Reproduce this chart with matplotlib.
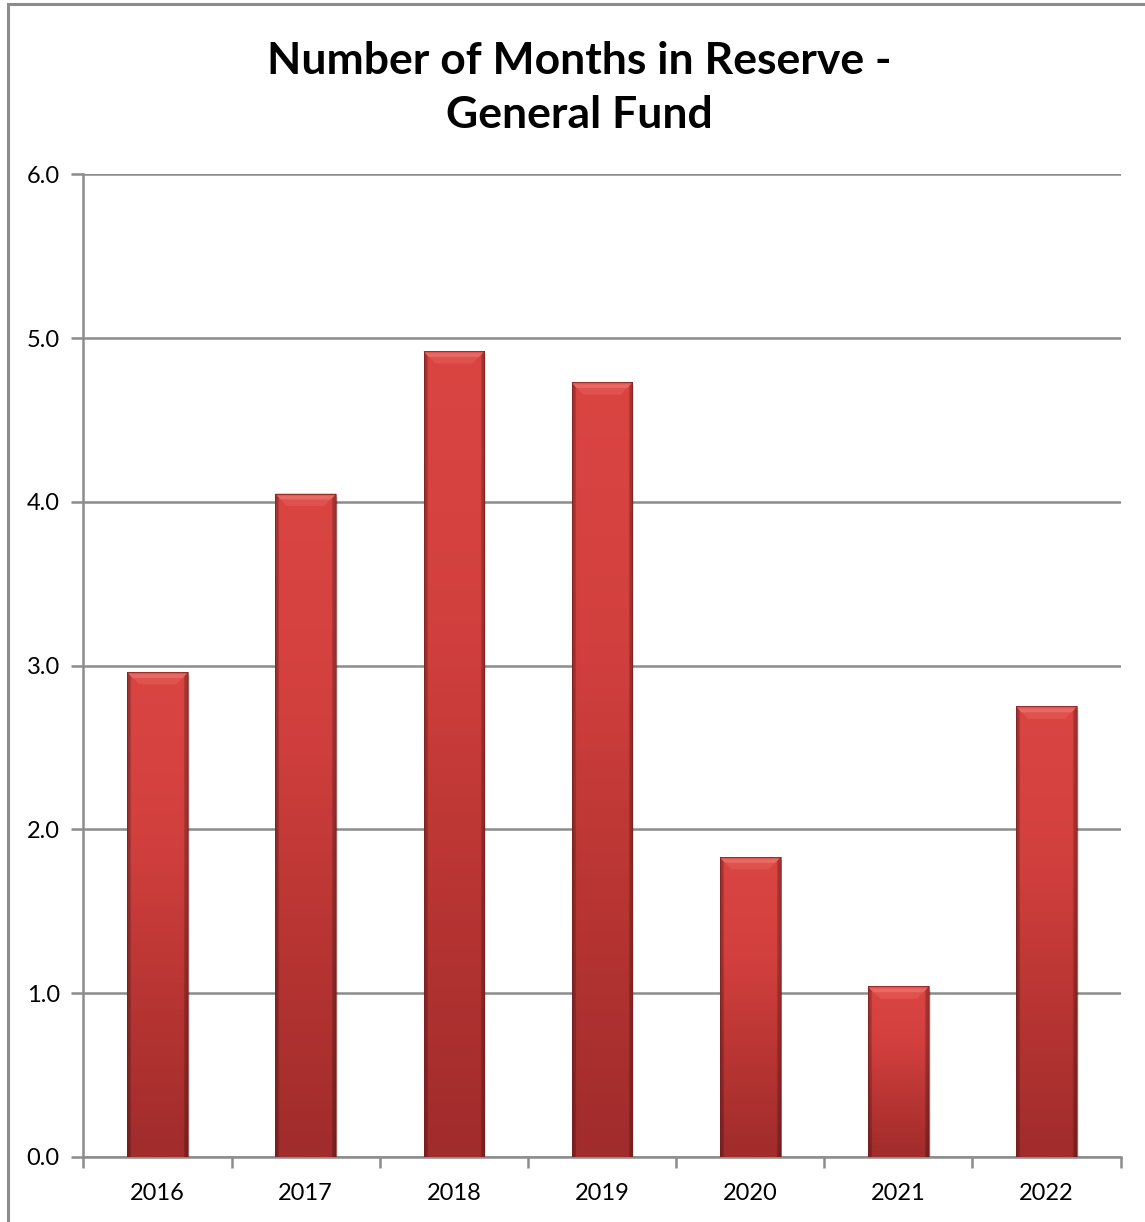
import numpy as np
import matplotlib
matplotlib.use("Agg")
import matplotlib.pyplot as plt
from matplotlib.patches import Rectangle, Polygon
from matplotlib.colors import LinearSegmentedColormap

years = ["2016", "2017", "2018", "2019", "2020", "2021", "2022"]
months_in_reserve = [2.96, 4.05, 4.92, 4.73, 1.83, 1.04, 2.75]
y_ticks = [0.0, 1.0, 2.0, 3.0, 4.0, 5.0, 6.0]
title = "Number of Months in Reserve -\nGeneral Fund"

plt.rcParams["font.family"] = ["Lato", "DejaVu Sans"]

fig = plt.figure(figsize=(11.45, 12.22), dpi=100)
ax = fig.add_axes([0.0729, 0.0534, 0.9058, 0.8039])

grid_color = "#8c8c8c"
x = np.arange(len(years))
bar_w = 0.41

bars = ax.bar(x, months_in_reserve, width=bar_w, color="#c83a38", zorder=3,
              edgecolor="none")

# vertical body gradient: lighter red at the top, deep red at the bottom
body_cmap = LinearSegmentedColormap.from_list(
    "body", ["#a02c2b", "#b83533", "#d2403e", "#da4542"])
edge_cmap = LinearSegmentedColormap.from_list(
    "edge", [(0, 0, 0, 0.30), (0, 0, 0, 0.0), (0, 0, 0, 0.0), (0, 0, 0, 0.30)])

for rect, v in zip(bars, months_in_reserve):
    x0 = rect.get_x()
    w = rect.get_width()
    # soft drop shadow
    ax.add_patch(Rectangle((x0 + 0.012, -0.02), w, v, facecolor="#000000",
                           alpha=0.10, zorder=2, edgecolor="none"))
    grad = np.linspace(0, 1, 256).reshape(-1, 1)
    im = ax.imshow(grad, cmap=body_cmap, origin="lower", aspect="auto",
                   extent=(x0, x0 + w, 0, v), zorder=3.1)
    im.set_clip_path(rect)
    hgrad = np.concatenate([np.linspace(0, 0.12, 16), np.full(224, 0.5),
                            np.linspace(0.88, 1, 16)]).reshape(1, -1)
    im2 = ax.imshow(hgrad, cmap=edge_cmap, origin="lower", aspect="auto",
                    extent=(x0, x0 + w, 0, v), zorder=3.2, vmin=0, vmax=1)
    im2.set_clip_path(rect)
    # bevelled top edge
    bh = 0.075
    bw = 0.08
    ax.add_patch(Polygon([(x0, v), (x0 + w, v), (x0 + w - bw, v - bh),
                          (x0 + bw, v - bh)], closed=True,
                         facecolor="#e0524e", edgecolor="none", zorder=3.3))
    ax.add_patch(Polygon([(x0 + 0.01, v - 0.012), (x0 + w - 0.01, v - 0.012),
                          (x0 + w - 0.035, v - 0.035), (x0 + 0.035, v - 0.035)],
                         closed=True, facecolor="#ec7a73", edgecolor="none",
                         alpha=0.6, zorder=3.4))
    ax.add_patch(Rectangle((x0, 0), w, v, facecolor="none",
                           edgecolor="#7a2020", lw=0.6, alpha=0.8, zorder=3.5))

ax.set_xlim(-0.5, len(years) - 0.5)
ax.set_ylim(0, 6)
ax.set_yticks(y_ticks)
ax.set_yticklabels([f"{t:.1f}" for t in y_ticks], fontsize=17)
ax.set_xticks(x)
ax.set_xticklabels(years, fontsize=17)
ax.tick_params(axis="x", length=0, pad=19)
ax.tick_params(axis="y", length=9, width=1.8, color=grid_color, pad=8)

# category boundary ticks on the x axis
ax.set_xticks(np.arange(-0.5, len(years)), minor=True)
ax.tick_params(axis="x", which="minor", length=8, width=1.8, color=grid_color)

ax.yaxis.grid(True, color=grid_color, lw=1.8, zorder=1)
for s in ["top", "right"]:
    ax.spines[s].set_visible(False)
for s in ["left", "bottom"]:
    ax.spines[s].set_color(grid_color)
    ax.spines[s].set_linewidth(1.8)
ax.set_axisbelow(True)

fig.text(0.506, 0.928, title, ha="center", va="center", fontsize=32,
         fontweight="bold", linespacing=1.45)

fig.patches.append(Rectangle((8 / 1145, -0.1), 1.2, 1 - 4 / 1222 + 0.1,
                             transform=fig.transFigure, facecolor="none",
                             edgecolor="#8c8c8c", lw=2.2, zorder=0))

fig.savefig("out.png", dpi=100)
